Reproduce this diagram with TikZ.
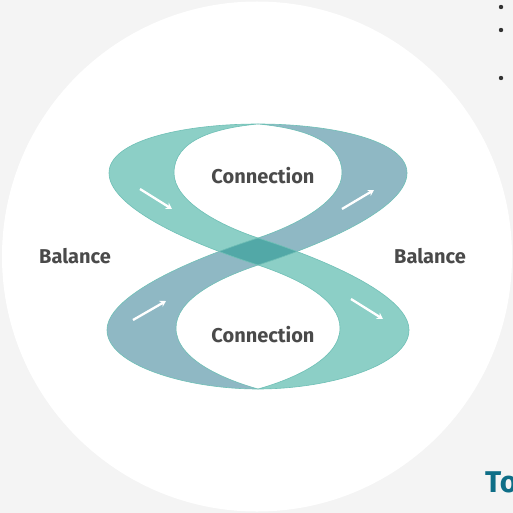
\documentclass[tikz,border=0pt]{standalone}
\usepackage{fontspec}
\setmainfont{Fira Sans}
\usetikzlibrary{arrows.meta}
\definecolor{bg}{HTML}{F4F4F4}
\definecolor{tealband}{HTML}{8CCFC6}
\definecolor{blueband}{HTML}{8FB8C4}
\definecolor{overlapc}{HTML}{52A8A7}
\definecolor{edgec}{HTML}{6FC0B6}
\definecolor{labelc}{HTML}{4A4A4A}
\definecolor{totext}{HTML}{0E6E87}
\definecolor{dotc}{HTML}{333333}
\tikzset{
  tealpath/.style={insert path={(258,124) .. controls (185,124) and (109,140) .. (109,173)
     .. controls (109,205) and (180,240) .. (258,265)
     .. controls (300,279) and (340,300) .. (340,328)
     .. controls (340,360) and (290,380) .. (258,389)
     .. controls (330,389) and (409,365) .. (409,330)
     .. controls (409,298) and (336,263) .. (258,238)
     .. controls (216,224) and (174,200) .. (174,173)
     .. controls (174,140) and (215,128) .. (258,124) -- cycle}},
  bluepath/.style={insert path={(258,124) .. controls (331,124) and (407,140) .. (407,173)
     .. controls (407,205) and (336,240) .. (258,265)
     .. controls (216,279) and (176,300) .. (176,328)
     .. controls (176,360) and (226,380) .. (258,389)
     .. controls (186,389) and (107,365) .. (107,330)
     .. controls (107,298) and (180,263) .. (258,238)
     .. controls (300,224) and (342,200) .. (342,173)
     .. controls (342,140) and (301,128) .. (258,124) -- cycle}}
}
\begin{document}
\begin{tikzpicture}[x=1pt,y=-1pt,
  lbl/.style={font=\fontsize{20}{24}\selectfont\bfseries, text=labelc, inner sep=0pt},
  flow/.style={white, line width=2.3pt, -{Stealth[length=6pt,width=7pt]}},
  outline/.style={draw=edgec, line width=0.6pt, line join=round},
  bullet/.style={circle, fill=dotc, inner sep=0pt, minimum size=4.4pt}]
\useasboundingbox (0,0) rectangle (513,513);
\fill[bg] (0,0) rectangle (513,513);
\fill[white] (257,256.5) circle[radius=255];
% bands
\fill[tealband, tealpath];
\fill[blueband, bluepath];
\begin{scope}
  \clip[tealpath];
  \fill[overlapc, bluepath];
\end{scope}
\path[outline, tealpath];
\path[outline, bluepath];
% arrows
\coordinate (a1s) at (140,189); \coordinate (a1e) at (172,209);
\coordinate (a2s) at (342,209); \coordinate (a2e) at (374,190);
\coordinate (a3s) at (133,320); \coordinate (a3e) at (166,301);
\coordinate (a4s) at (351,299); \coordinate (a4e) at (383,319);
\draw[flow] (a1s) -- (a1e);
\draw[flow] (a2s) -- (a2e);
\draw[flow] (a3s) -- (a3e);
\draw[flow] (a4s) -- (a4e);
% labels
\node[lbl] (c1) at (263,176) {Connection};
\node[lbl] (c2) at (263,335) {Connection};
\node[lbl] (b1) at (75,256.5) {Balance};
\node[lbl] (b2) at (430,256.5) {Balance};
% side fragments
\node[bullet] (d1) at (501,7) {};
\node[bullet] (d2) at (501,30) {};
\node[bullet] (d3) at (501,78) {};
\node[anchor=base west, inner sep=0pt, text=totext,
      font=\fontsize{30}{36}\selectfont\bfseries] (to) at (485,492) {To};
\end{tikzpicture}
\end{document}
